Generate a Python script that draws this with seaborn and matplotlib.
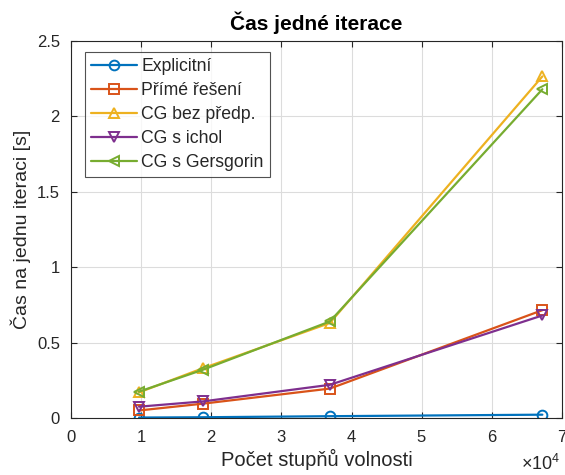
import numpy as np
import pandas as pd
import matplotlib
matplotlib.use("Agg")
import matplotlib.pyplot as plt
import seaborn as sns

# Data
dofs = [9700, 18800, 36900, 67200]
explicit = [0.003, 0.005, 0.012, 0.022]
prime = [0.05, 0.095, 0.195, 0.715]
cg_bez = [0.17, 0.33, 0.63, 2.265]
cg_ichol = [0.075, 0.11, 0.22, 0.68]
cg_gers = [0.175, 0.32, 0.64, 2.18]

series_names = ["Explicitní", "Přímé řešení", "CG bez předp.", "CG s ichol", "CG s Gersgorin"]
series_values = [explicit, prime, cg_bez, cg_ichol, cg_gers]
colors = ["#0072BD", "#D95319", "#EDB120", "#7E2F8E", "#77AC30"]
markers = ["o", "s", "^", "v", "<"]

sns.set_theme(style="white")
plt.rcParams["font.family"] = ["Liberation Sans", "DejaVu Sans"]
plt.rcParams["mathtext.fontset"] = "custom"
plt.rcParams["mathtext.rm"] = "Liberation Sans"
plt.rcParams["mathtext.it"] = "Liberation Sans"

fig = plt.figure(figsize=(5.65, 4.75), dpi=100)
ax = fig.add_axes([0.1257, 0.12, 0.869, 0.7937])

for name, vals, c, m in zip(series_names, series_values, colors, markers):
    df = pd.DataFrame({"x": dofs, "y": vals})
    sns.lineplot(data=df, x="x", y="y", ax=ax, color=c, marker=m, label=name,
                 linewidth=1.6, markersize=7, markerfacecolor="none",
                 markeredgecolor=c, markeredgewidth=1.4)

ax.set_xlim(0, 70000)
ax.set_ylim(0, 2.5)
ax.set_xticks(np.arange(0, 70001, 10000))
ax.set_yticks([0, 0.5, 1, 1.5, 2, 2.5])
ax.set_yticklabels(["0", "0.5", "1", "1.5", "2", "2.5"])
ax.ticklabel_format(style="sci", axis="x", scilimits=(4, 4), useMathText=True)
ax.xaxis.get_offset_text().set_visible(False)
fig.text(0.992, 0.003, r"$\times10^4$", ha="right", va="bottom",
         fontsize=13, color="#262626")

ax.grid(True, color="#dcdcdc", linewidth=0.8)
ax.set_axisbelow(True)
for s in ax.spines.values():
    s.set_color("#262626")
    s.set_linewidth(0.8)
    s.set_visible(True)
ax.tick_params(axis="both", direction="in", length=4, width=0.8, colors="#262626",
               labelsize=12, top=True, right=True, bottom=True, left=True)
ax.tick_params(axis="x", pad=8)
ax.tick_params(axis="y", pad=8)

ax.set_title("Čas jedné iterace", fontsize=15, fontweight="bold", color="black", pad=8)
ax.set_xlabel("Počet stupňů volnosti", fontsize=14.5, color="#262626", labelpad=3)
ax.set_ylabel("Čas na jednu iteraci [s]", fontsize=14, color="#262626", labelpad=4)

leg = ax.legend(loc="upper left", bbox_to_anchor=(0.0285, 0.971), borderaxespad=0,
                fontsize=12.7, frameon=True, fancybox=False, edgecolor="#262626",
                handlelength=2.6, borderpad=0.35, labelspacing=0.4, handletextpad=0.25)
leg.get_frame().set_linewidth(0.8)

fig.savefig("out.png", dpi=100)
